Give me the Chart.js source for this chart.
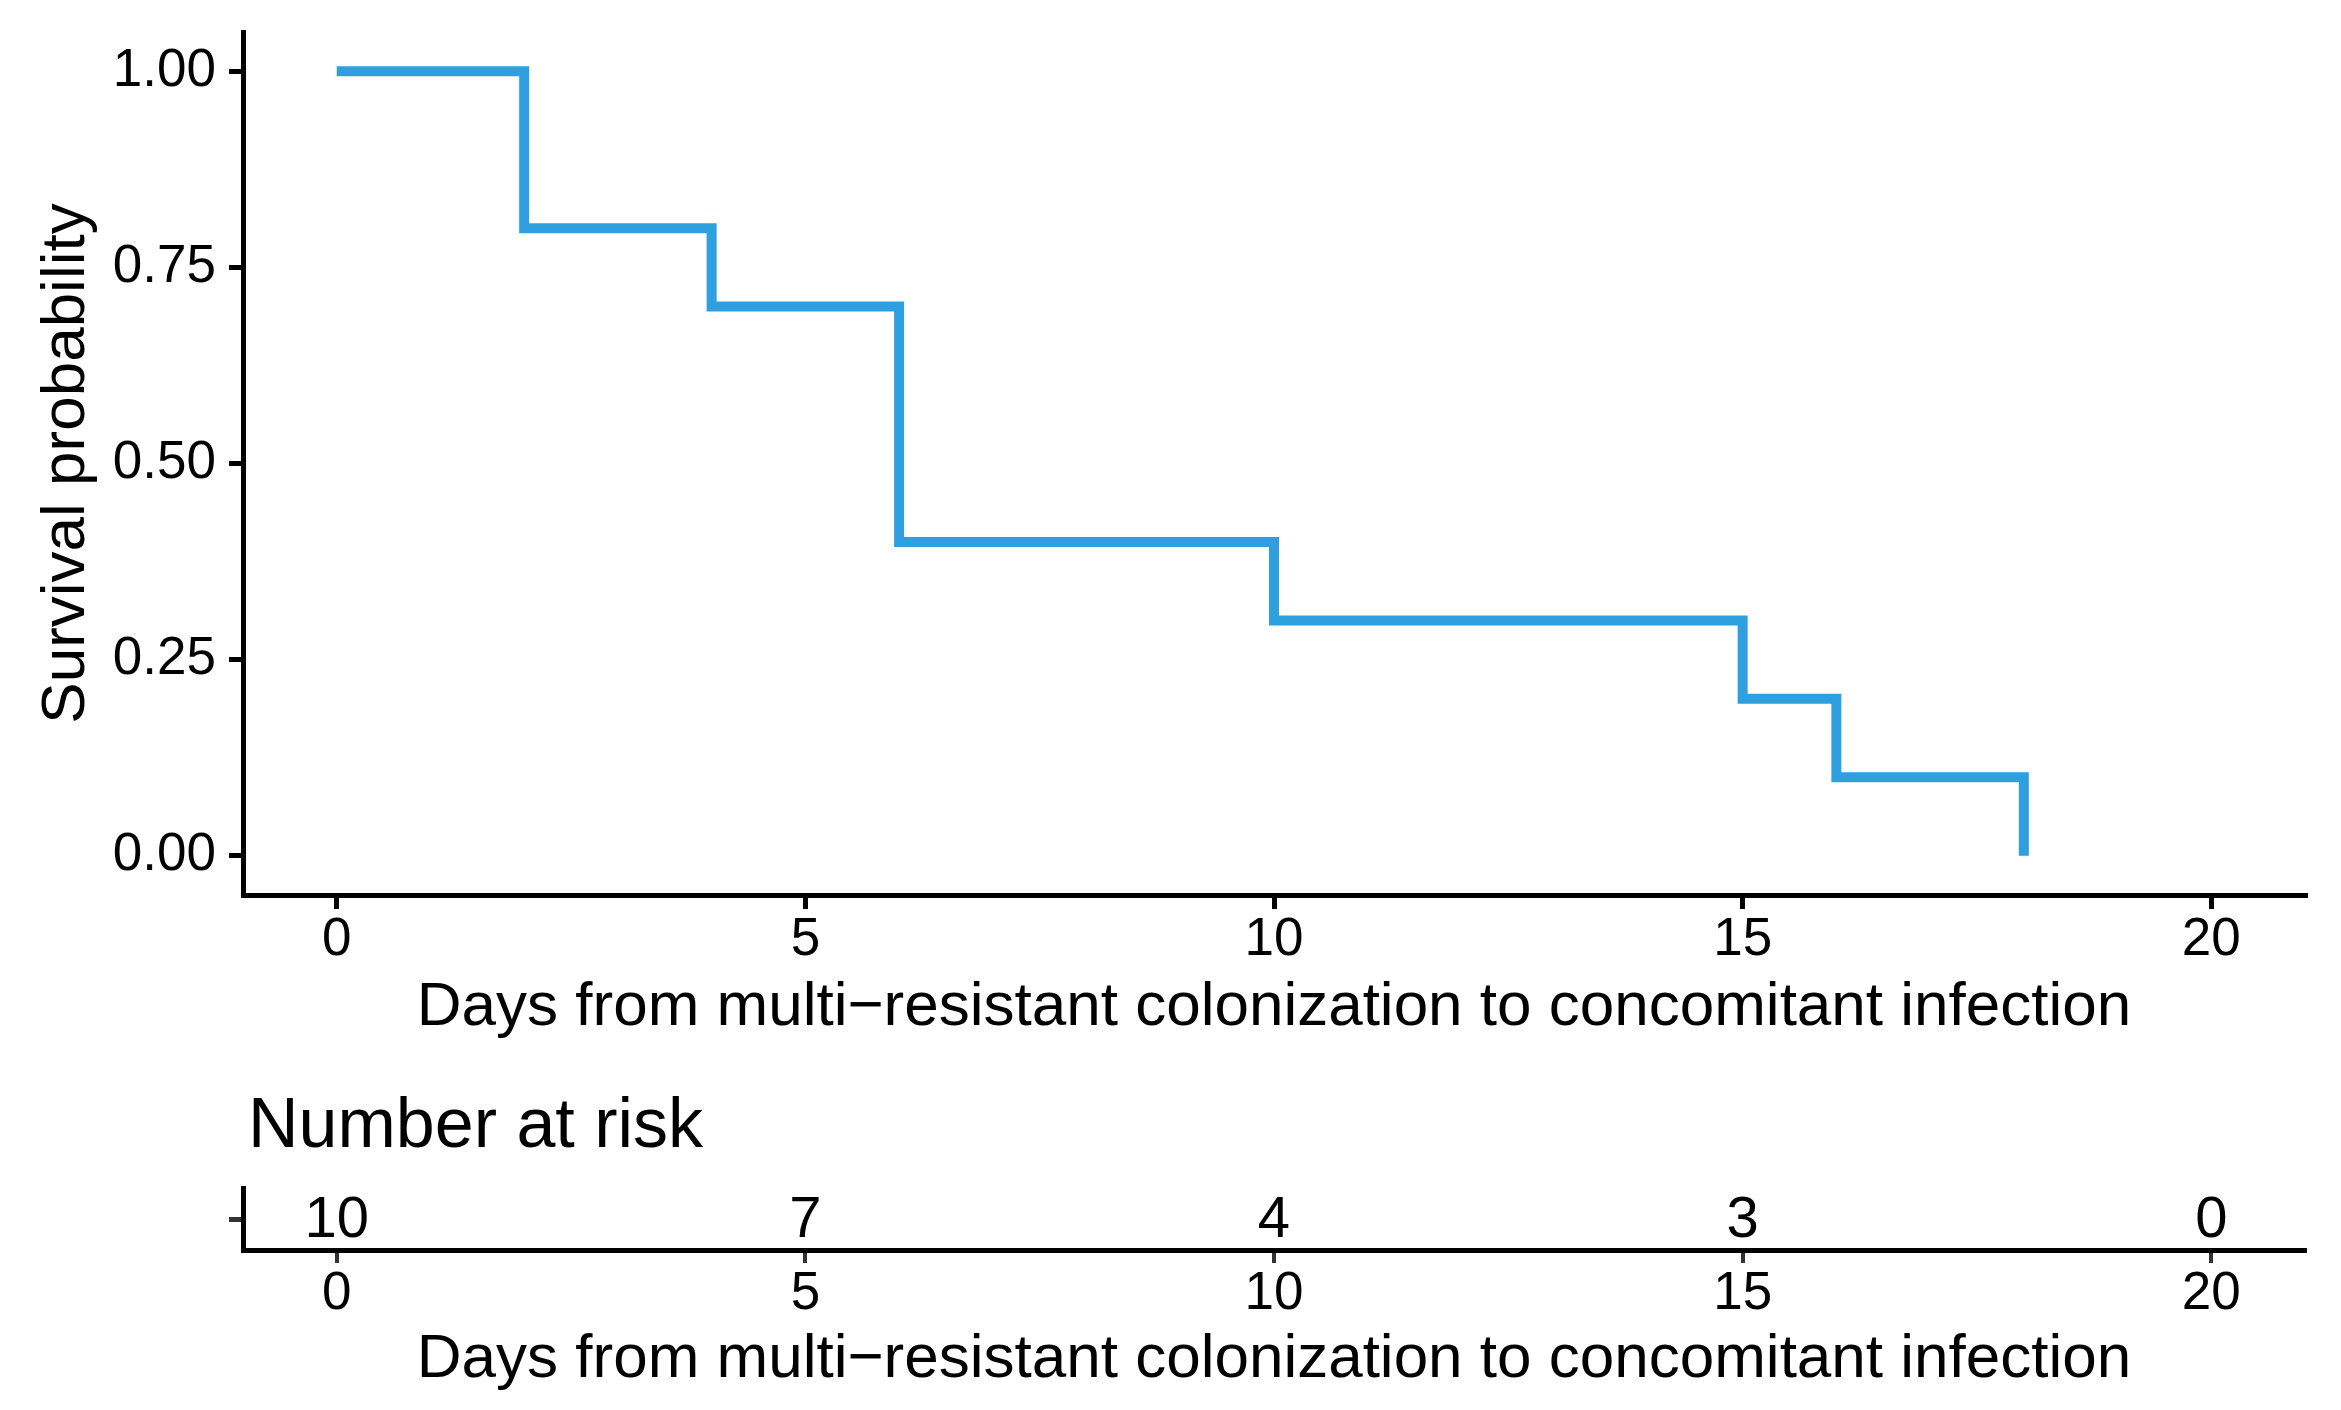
<!DOCTYPE html>
<html>
<head>
<meta charset="utf-8">
<title>Survival probability</title>
<script src="https://cdn.jsdelivr.net/npm/chart.js@4.4.1/dist/chart.umd.min.js"></script>
<style>
  html, body { margin: 0; padding: 0; background: #fff; }
  #wrap { position: relative; width: 2341px; height: 1410px; overflow: hidden; }
  canvas { position: absolute; left: 0; }
  #kmChart { top: 0; }
  #riskChart { top: 1045px; }
</style>
</head>
<body>
<div id="wrap">
  <canvas id="kmChart" width="2341" height="1045"></canvas>
  <canvas id="riskChart" width="2341" height="365"></canvas>
</div>
<script>
// data
const times = [0, 2, 4, 6, 10, 15, 16, 18];
const survival = [1.0, 0.8, 0.7, 0.4, 0.3, 0.2, 0.1, 0.0];
const xTicks = [0, 5, 10, 15, 20];
const yTicks = [0, 0.25, 0.5, 0.75, 1.0];
const riskTimes = [0, 5, 10, 15, 20];
const riskCounts = [10, 7, 4, 3, 0];

const xTitle = 'Days from multi\u2212resistant colonization to concomitant infection';
const yTitle = 'Survival probability';
const riskTitle = 'Number at risk';

const FONT = "'Liberation Sans', Arial, Helvetica, sans-serif";
const lineColor = '#2E9FDF';

Chart.defaults.font.family = FONT;
Chart.defaults.color = '#000';

const axisBorder = { display: true, color: '#000', width: 5 };

// main survival curve
new Chart(document.getElementById('kmChart'), {
    type: 'line',
    data: {
        datasets: [{
            data: times.map((t, i) => ({ x: t, y: survival[i] })),
            stepped: true,
            borderColor: lineColor,
            borderWidth: 10,
            borderCapStyle: 'butt',
            borderJoinStyle: 'miter',
            pointRadius: 0,
            fill: false
        }]
    },
    options: {
        responsive: false,
        animation: false,
        devicePixelRatio: 1,
        layout: { padding: { top: 32, right: 36, bottom: 0, left: 0 } },
        plugins: { legend: { display: false }, tooltip: { enabled: false } },
        scales: {
            x: {
                type: 'linear',
                min: -1,
                max: 21,
                afterBuildTicks: (s) => { s.ticks = xTicks.map(v => ({ value: v })); },
                afterFit: (s) => { s.height = 150; },
                grid: { drawOnChartArea: false, drawTicks: true, tickLength: 14, lineWidth: 5, color: '#000' },
                border: axisBorder,
                ticks: { font: { size: 53 }, color: '#000', padding: 0, maxRotation: 0, minRotation: 0, autoSkip: false },
                title: { display: true, text: xTitle, font: { size: 62 }, color: '#000', padding: { top: 0, bottom: 0 } }
            },
            y: {
                type: 'linear',
                min: -0.05,
                max: 1.05,
                afterBuildTicks: (s) => { s.ticks = yTicks.map(v => ({ value: v })); },
                afterFit: (s) => { s.width = 243; },
                grid: { drawOnChartArea: false, drawTicks: true, tickLength: 14, lineWidth: 5, color: '#000' },
                border: axisBorder,
                // small lineHeight so the label box does not push the plot area down
                ticks: { font: { size: 53, lineHeight: 0.6 }, color: '#000', padding: 13, callback: (v) => Number(v).toFixed(2) },
                title: { display: true, text: yTitle, font: { size: 62 }, color: '#000', padding: { top: 30, bottom: 0 } }
            }
        }
    }
});

// numbers at risk drawn at the points' positions
const riskLabels = {
    id: 'riskLabels',
    afterDatasetsDraw(chart) {
        const ctx = chart.ctx;
        const meta = chart.getDatasetMeta(0);
        ctx.save();
        ctx.fillStyle = '#000';
        ctx.font = `58px ${FONT}`;
        ctx.textAlign = 'center';
        ctx.textBaseline = 'middle';
        meta.data.forEach((pt, i) => {
            ctx.fillText(String(riskCounts[i]), pt.x, pt.y + 2);
        });
        ctx.font = `70px ${FONT}`;
        ctx.textAlign = 'left';
        ctx.textBaseline = 'alphabetic';
        ctx.fillText(riskTitle, chart.chartArea.left + 5, 102);
        ctx.restore();
    }
};

new Chart(document.getElementById('riskChart'), {
    type: 'scatter',
    data: {
        datasets: [{
            data: riskTimes.map(t => ({ x: t, y: 0.5 })),
            pointRadius: 0,
            showLine: false
        }]
    },
    options: {
        responsive: false,
        animation: false,
        devicePixelRatio: 1,
        layout: { padding: { top: 143, right: 36, bottom: 0, left: 0 } },
        plugins: { legend: { display: false }, tooltip: { enabled: false } },
        scales: {
            x: {
                type: 'linear',
                min: -1,
                max: 21,
                afterBuildTicks: (s) => { s.ticks = xTicks.map(v => ({ value: v })); },
                afterFit: (s) => { s.height = 160; },
                grid: { drawOnChartArea: false, drawTicks: true, tickLength: 13, lineWidth: 4, color: '#333333' },
                border: axisBorder,
                ticks: { font: { size: 53 }, color: '#000', padding: 0, maxRotation: 0, minRotation: 0, autoSkip: false },
                title: { display: true, text: xTitle, font: { size: 62 }, color: '#000', padding: { top: 0, bottom: 13 } }
            },
            y: {
                type: 'linear',
                min: 0,
                max: 1,
                afterBuildTicks: (s) => { s.ticks = [{ value: 0.5 }]; },
                afterFit: (s) => { s.width = 243; },
                grid: { drawOnChartArea: false, drawTicks: true, tickLength: 14, lineWidth: 5, color: '#333333' },
                border: axisBorder,
                ticks: { font: { size: 53, lineHeight: 0.6 }, padding: 0, callback: () => '' }
            }
        }
    },
    plugins: [riskLabels]
});
</script>
</body>
</html>
